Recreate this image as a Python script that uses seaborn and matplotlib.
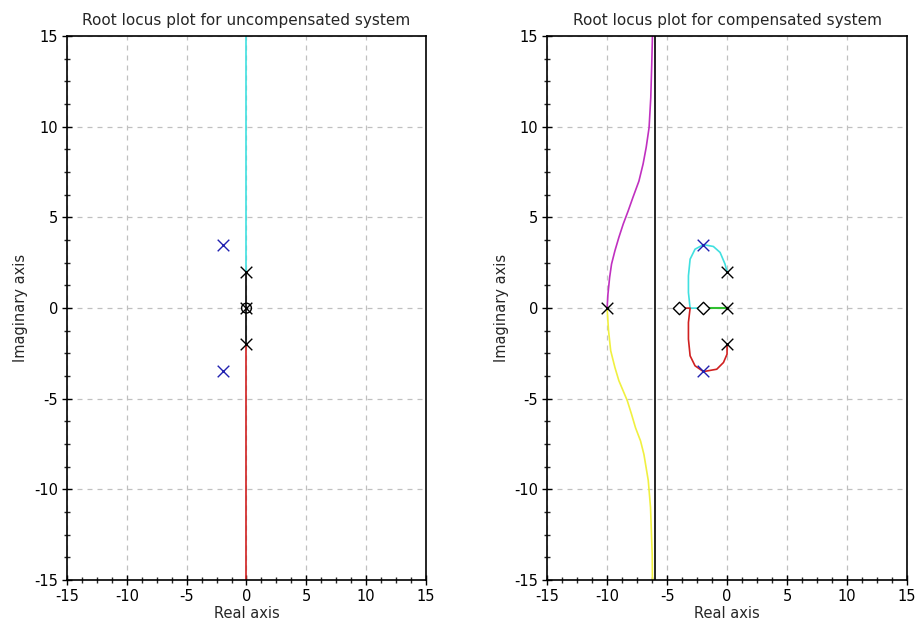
import numpy as np
import pandas as pd
import matplotlib
matplotlib.use("Agg")
import matplotlib.pyplot as plt
from matplotlib.ticker import AutoMinorLocator
import seaborn as sns

# ---------------- data ----------------
ticks = [-15, -10, -5, 0, 5, 10, 15]
titles = ["Root locus plot for uncompensated system",
          "Root locus plot for compensated system"]

# uncompensated system
unc_cyan_x = [0, 0]
unc_cyan_y = [2, 15]
unc_black_x = [0, 0]
unc_black_y = [-2, 2]
unc_red_x = [0, 0]
unc_red_y = [-2, -15]
unc_poles_x = [0, 0, 0]
unc_poles_y = [2, 0, -2]
unc_zeros_x = [0]
unc_zeros_y = [0]
unc_cl_x = [-2, -2]
unc_cl_y = [3.46, -3.46]

# compensated system
mag_x = [-10, -9.93, -9.79, -9.63, -9.35, -9.02, -8.66, -8.24, -7.85, -7.35,
         -7.0, -6.74, -6.5, -6.36, -6.28, -6.22]
mag_y = [0, 0.77, 1.69, 2.43, 3.16, 3.9, 4.63, 5.37, 6.1, 7.0,
         7.95, 8.87, 9.96, 11.6, 13.4, 15]
yel_x = [-10, -9.88, -9.7, -9.35, -9.02, -8.32, -7.96, -7.63, -7.21, -6.93,
         -6.57, -6.38, -6.24, -6.22]
yel_y = [0, -1.25, -2.35, -3.27, -4.0, -5.1, -5.86, -6.6, -7.33, -8.07,
         -9.5, -11.0, -13.6, -15]
cyan_x = [0, -0.17, -0.58, -1.14, -1.97, -2.67, -3.08, -3.22, -3.22, -3.08, -2.0]
cyan_y = [2, 2.43, 3.07, 3.4, 3.5, 3.25, 2.7, 1.78, 0.86, 0.0, 0.0]
red_x = [0, 0, -0.3, -0.86, -1.97, -2.67, -3.08, -3.22, -3.22, -3.08, -4.0]
red_y = [-2, -2.54, -3.0, -3.37, -3.5, -3.18, -2.63, -1.71, -0.79, 0.0, 0.0]
green_x = [0, -2]
green_y = [0, 0]
asym_x = [-6, -6]
asym_y = [-15, 15]
comp_poles_x = [0, 0, 0, -10]
comp_poles_y = [2, 0, -2, 0]
comp_zeros_x = [-2, -4]
comp_zeros_y = [0, 0]
comp_cl_x = [-2, -2]
comp_cl_y = [3.46, -3.46]

# ---------------- plotting ----------------
sns.set_style("white")
plt.rcParams['font.family'] = ['DejaVu Sans']

fig = plt.figure(figsize=(9.18, 6.34), dpi=100)
ax1 = fig.add_axes([0.073, 0.085, 0.391, 0.858])
ax2 = fig.add_axes([0.596, 0.085, 0.392, 0.858])

CYAN = "#40e0e0"
RED = "#d02020"
MAG = "#c030c0"
YEL = "#f0f040"
GREEN = "#30c030"
BLUE = "#2020b0"


def line(ax, x, y, color, lw=1.2, z=2):
    sns.lineplot(x=x, y=y, ax=ax, color=color, linewidth=lw, sort=False,
                 estimator=None, zorder=z)


def marks(ax, x, y, marker, color, size=70, lw=1.0, face="none"):
    df = pd.DataFrame({"x": x, "y": y})
    if marker == "x":
        sns.scatterplot(data=df, x="x", y="y", ax=ax, marker="x", color=color,
                        s=size, linewidth=lw, zorder=5)
    else:
        sns.scatterplot(data=df, x="x", y="y", ax=ax, marker=marker,
                        facecolor=face, edgecolor=color, s=size, linewidth=lw,
                        zorder=5)


# left axes
line(ax1, unc_cyan_x, unc_cyan_y, CYAN)
line(ax1, unc_black_x, unc_black_y, "black")
line(ax1, unc_red_x, unc_red_y, RED)
marks(ax1, unc_zeros_x, unc_zeros_y, "o", "black", size=50)
marks(ax1, unc_poles_x, unc_poles_y, "x", "black", size=70)
marks(ax1, unc_cl_x, unc_cl_y, "x", BLUE, size=70)

# right axes
line(ax2, asym_x, asym_y, "black", lw=1.2)
line(ax2, mag_x, mag_y, MAG)
line(ax2, yel_x, yel_y, YEL)
line(ax2, cyan_x, cyan_y, CYAN)
line(ax2, red_x, red_y, RED)
line(ax2, green_x, green_y, GREEN, lw=1.5)
marks(ax2, comp_zeros_x, comp_zeros_y, "D", "black", size=40, face="white")
marks(ax2, comp_poles_x, comp_poles_y, "x", "black", size=70)
marks(ax2, comp_cl_x, comp_cl_y, "x", BLUE, size=70)

for ax, t in zip([ax1, ax2], titles):
    ax.set_xlim(-15, 15)
    ax.set_ylim(-15, 15)
    ax.set_xticks(ticks)
    ax.set_yticks(ticks)
    ax.set_xticklabels([str(v) for v in ticks])
    ax.set_yticklabels([str(v) for v in ticks])
    ax.xaxis.set_minor_locator(AutoMinorLocator(4))
    ax.yaxis.set_minor_locator(AutoMinorLocator(4))
    ax.grid(True, which="major", color="#c0c0c0", linestyle=(0, (4, 4)),
            linewidth=0.9)
    ax.set_axisbelow(True)
    for s in ax.spines.values():
        s.set_color("black")
        s.set_linewidth(1.2)
        s.set_visible(True)
    ax.tick_params(axis="both", which="major", direction="inout", length=7,
                   width=1, labelsize=10.5, colors="black", pad=3,
                   bottom=True, left=True, top=False, right=False)
    ax.tick_params(axis="both", which="minor", direction="inout", length=4,
                   width=1, bottom=True, left=True, top=False, right=False)
    ax.set_title(t, fontsize=11, pad=8)
    ax.set_xlabel("Real axis", fontsize=10.5, labelpad=1)
    ax.set_ylabel("Imaginary axis", fontsize=10.5, labelpad=4)

fig.savefig("out.png", dpi=100)
